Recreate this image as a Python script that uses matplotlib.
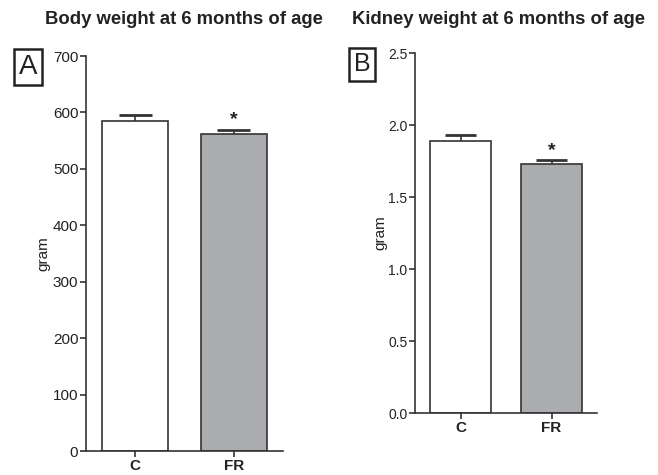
import numpy as np
import matplotlib
matplotlib.use('Agg')
import matplotlib.pyplot as plt

plt.rcParams['font.family'] = ['Liberation Sans', 'DejaVu Sans']

groups = ['C', 'FR']
body_mean = [585, 562]
body_sem = [11, 7]
kidney_mean = [1.89, 1.73]
kidney_sem = [0.04, 0.025]
body_ticks = [0, 100, 200, 300, 400, 500, 600, 700]
kidney_ticks = [0.0, 0.5, 1.0, 1.5, 2.0, 2.5]

edge = '#333333'
txt = '#222222'
fills = ['white', '#abacaf']

fig = plt.figure(figsize=(6.58, 4.75), dpi=100)
axA = fig.add_axes([0.1307, 0.0505, 0.2994, 0.8316])
axB = fig.add_axes([0.6307, 0.1305, 0.2766, 0.7579])


def panel(ax, means, sems, ticks, fmt, tick_size):
    x = np.arange(len(groups))
    ax.bar(x, means, width=0.667, color=fills, edgecolor=edge, linewidth=1.2, zorder=2)
    tops = np.array(means) + np.array(sems)
    # upward-only SEM bars
    ax.vlines(x, means, tops, color=edge, linewidth=1.2, zorder=3)
    ax.hlines(tops, x - 0.17, x + 0.17, color=edge, linewidth=2.0, zorder=3)
    # significance star above FR
    ax.annotate('*', (x[1], tops[1]), xytext=(0, 1), textcoords='offset points',
                ha='center', va='bottom', fontsize=14, fontweight='bold', color=txt)
    ax.set_xlim(-0.5, 1.5)
    ax.set_ylim(ticks[0], ticks[-1])
    ax.set_yticks(ticks)
    ax.set_yticklabels([fmt.format(t) for t in ticks], fontsize=tick_size, color=txt)
    ax.set_xticks(x)
    ax.set_xticklabels(groups, fontsize=11, fontweight='bold', color=txt)
    for s in ['top', 'right']:
        ax.spines[s].set_visible(False)
    for s in ['left', 'bottom']:
        ax.spines[s].set_color(edge)
        ax.spines[s].set_linewidth(1.2)
    ax.tick_params(axis='both', direction='out', length=4, width=1.2, color=edge, pad=1.5)
    ax.set_ylabel('gram', fontsize=11, color=txt)
    ax.set_facecolor('none')


panel(axA, body_mean, body_sem, body_ticks, '{:.0f}', 11)
panel(axB, kidney_mean, kidney_sem, kidney_ticks, '{:.1f}', 10)
axA.yaxis.labelpad = 2
axB.yaxis.labelpad = 0.5

fig.text(184 / 658, 1 - 20 / 475, 'Body weight at 6 months of age', ha='center', va='center',
         fontsize=13.3, fontweight='bold', color=txt)
fig.text(498 / 658, 1 - 20 / 475, 'Kidney weight at 6 months of age', ha='center', va='center',
         fontsize=13.3, fontweight='bold', color=txt)

for lab, cx, cy, fs in [('A', 28, 67, 20), ('B', 362, 64, 18)]:
    fig.text(cx / 658, 1 - cy / 475, lab, ha='center', va='center', fontsize=fs, color=txt,
             bbox=dict(boxstyle='square,pad=0.18', facecolor='white', edgecolor=txt, linewidth=1.8))

fig.savefig('out.png', dpi=100)
